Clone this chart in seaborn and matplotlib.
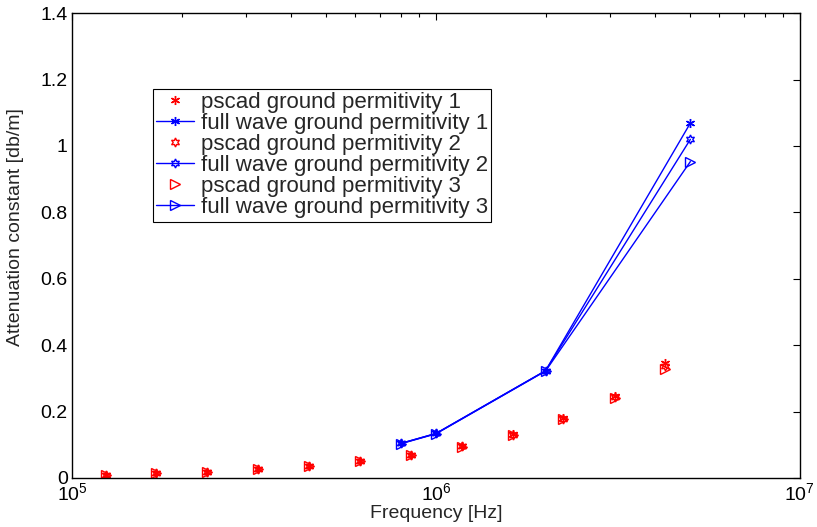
import matplotlib
matplotlib.use("Agg")
import matplotlib.pyplot as plt
import seaborn as sns
import numpy as np
import pandas as pd
from matplotlib.ticker import FixedLocator, LogLocator, NullFormatter, FuncFormatter

# ---- data ----
pscad_freq = [1.24e5, 1.70e5, 2.35e5, 3.24e5, 4.48e5, 6.18e5, 8.53e5, 1.18e6, 1.63e6, 2.23e6, 3.10e6, 4.26e6]
pscad_perm1 = [0.009, 0.014, 0.019, 0.027, 0.037, 0.051, 0.069, 0.096, 0.131, 0.181, 0.248, 0.347]
pscad_perm2 = [0.009, 0.014, 0.019, 0.027, 0.037, 0.051, 0.069, 0.096, 0.130, 0.179, 0.245, 0.338]
pscad_perm3 = [0.009, 0.014, 0.019, 0.027, 0.036, 0.050, 0.068, 0.094, 0.129, 0.177, 0.241, 0.328]

fw_freq = [8e5, 1e6, 2e6, 5e6]
fw_perm1 = [0.104, 0.134, 0.323, 1.069]
fw_perm2 = [0.104, 0.134, 0.323, 1.020]
fw_perm3 = [0.103, 0.133, 0.322, 0.953]

labels = ["pscad ground permitivity 1", "full wave ground permitivity 1",
          "pscad ground permitivity 2", "full wave ground permitivity 2",
          "pscad ground permitivity 3", "full wave ground permitivity 3"]
y_ticks = [0, 0.2, 0.4, 0.6, 0.8, 1.0, 1.2, 1.4]
x_ticks = [1e5, 1e6, 1e7]

sns.set_style("white")
plt.rcParams['font.family'] = ['Liberation Sans', 'DejaVu Sans']
plt.rcParams['mathtext.fontset'] = 'custom'
plt.rcParams['mathtext.rm'] = 'Liberation Sans'

fig = plt.figure(figsize=(8.17, 5.27), dpi=100)
ax = fig.add_axes([0.0881, 0.093, 0.891, 0.882])

asterisk = (6, 2, 0)
hexagram = (6, 1, 0)
tri = '>'

pscad_sets = [pscad_perm1, pscad_perm2, pscad_perm3]
fw_sets = [fw_perm1, fw_perm2, fw_perm3]
marks = [asterisk, hexagram, tri]
msizes = [6.5, 6.5, 6.5]

for i in range(3):
    sns.lineplot(x=pscad_freq, y=pscad_sets[i], ax=ax, color='red', linestyle='',
                 marker=marks[i], markersize=msizes[i], markerfacecolor='none',
                 markeredgecolor='red', markeredgewidth=1.0, label=labels[2 * i])
    sns.lineplot(x=fw_freq, y=fw_sets[i], ax=ax, color='blue', linestyle='-', linewidth=1.0,
                 marker=marks[i], markersize=msizes[i], markerfacecolor='none',
                 markeredgecolor='blue', markeredgewidth=1.0, label=labels[2 * i + 1])

ax.set_xscale('log')
ax.set_xlim(1e5, 1e7)
ax.set_ylim(0, 1.4)
ax.xaxis.set_major_locator(FixedLocator(x_ticks))
ax.xaxis.set_major_formatter(FuncFormatter(lambda v, p: r'$\mathregular{10^{%d}}$' % round(np.log10(v))))
ax.xaxis.set_minor_locator(LogLocator(base=10, subs=np.arange(2, 10)))
ax.xaxis.set_minor_formatter(NullFormatter())
ax.yaxis.set_major_locator(FixedLocator(y_ticks))
ax.yaxis.set_major_formatter(FuncFormatter(lambda v, p: '%g' % v))

ax.tick_params(which='both', direction='in', top=True, right=True, labelsize=14,
               width=0.8, colors='black')
ax.tick_params(which='major', length=5, pad=3)
ax.tick_params(which='minor', length=3)
for s in ax.spines.values():
    s.set_visible(True)
    s.set_color('black')
    s.set_linewidth(1.0)

ax.set_xlabel('Frequency [Hz]', fontsize=14, labelpad=1)
ax.set_ylabel('Attenuation constant [db/m]', fontsize=14)
ax.yaxis.set_label_coords(-0.066, 0.54)

leg = ax.legend(loc='upper left', bbox_to_anchor=(0.111, 0.837), fontsize=16,
                frameon=True, fancybox=False, edgecolor='black', framealpha=1,
                handlelength=1.7, handletextpad=0.3, borderpad=0.15, labelspacing=0.0,
                borderaxespad=0)
leg.get_frame().set_linewidth(0.8)

fig.savefig('out.png', dpi=100)
